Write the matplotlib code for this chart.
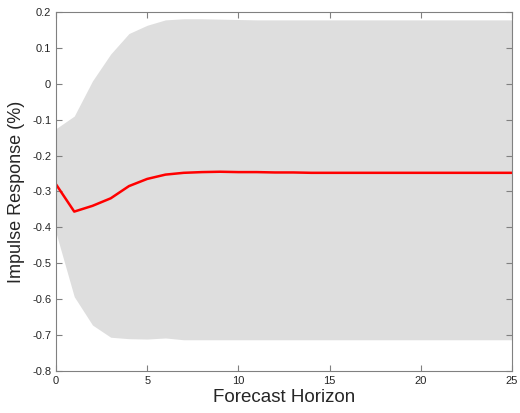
import numpy as np
import matplotlib
matplotlib.use("Agg")
import matplotlib.pyplot as plt

plt.rcParams['font.family'] = ['Liberation Sans', 'DejaVu Sans']

horizon = list(range(26))
response = [-0.280, -0.356, -0.340, -0.319, -0.285, -0.265, -0.253, -0.248, -0.246,
            -0.245, -0.246, -0.246, -0.247, -0.247, -0.248, -0.248, -0.248, -0.248,
            -0.248, -0.248, -0.248, -0.248, -0.248, -0.248, -0.248, -0.248]
upper = [-0.125, -0.090, 0.008, 0.083, 0.140, 0.163, 0.178, 0.181, 0.181, 0.180,
         0.179, 0.178, 0.178, 0.178, 0.178, 0.178, 0.178, 0.178, 0.178, 0.178,
         0.178, 0.178, 0.178, 0.178, 0.178, 0.178]
lower = [-0.415, -0.593, -0.672, -0.706, -0.710, -0.711, -0.708, -0.713, -0.713,
         -0.713, -0.713, -0.713, -0.713, -0.713, -0.713, -0.713, -0.713, -0.713,
         -0.713, -0.713, -0.713, -0.713, -0.713, -0.713, -0.713, -0.713]

fig = plt.figure(figsize=(5.2, 4.13), dpi=100)
ax = fig.add_axes([0.1077, 0.1017, 0.8769, 0.8693])

ax.fill_between(horizon, lower, upper, color='#dedede', linewidth=0, zorder=1)
ax.plot(horizon, response, color='#ff0000', linewidth=1.8, zorder=2)

ax.set_xlim(0, 25)
ax.set_ylim(-0.8, 0.2)
ax.set_xticks([0, 5, 10, 15, 20, 25])
ax.set_yticks(np.round(np.arange(-0.8, 0.21, 0.1), 1))
ax.set_yticklabels(['-0.8', '-0.7', '-0.6', '-0.5', '-0.4', '-0.3', '-0.2', '-0.1', '0', '0.1', '0.2'])

for s in ax.spines.values():
    s.set_color('#808080')
    s.set_linewidth(0.8)
    s.set_zorder(3)
ax.tick_params(direction='in', top=True, right=True, length=4, width=0.8,
               color='#808080', labelcolor='#262626', labelsize=8)
ax.set_xlabel('Forecast Horizon', fontsize=13.5, color='#262626', labelpad=2)
ax.set_ylabel('Impulse Response (%)', fontsize=13, color='#262626', labelpad=5)

fig.savefig('out.png', dpi=100)
